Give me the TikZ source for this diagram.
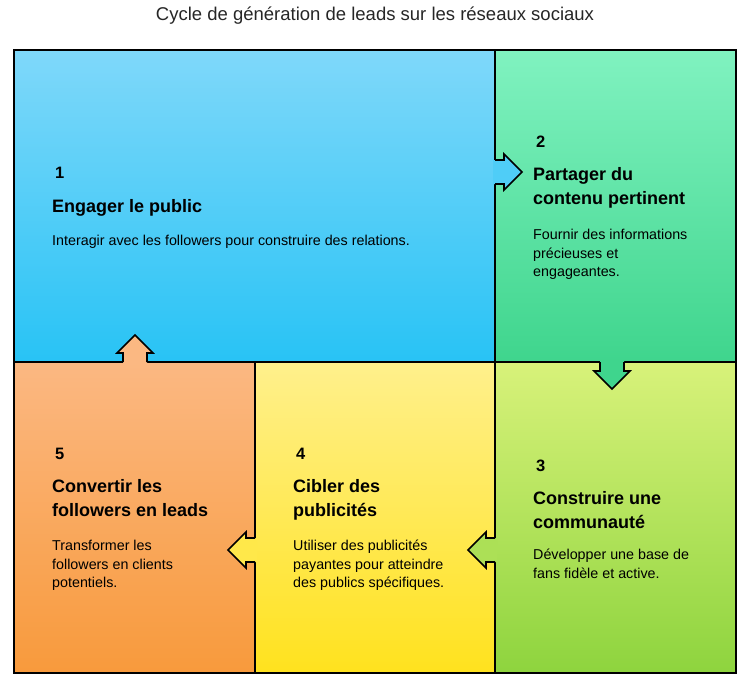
\documentclass[tikz,border=0pt]{standalone}
\usepackage{fontspec}
\setmainfont{Liberation Sans}
\definecolor{bluetop}{HTML}{7FD8FA}
\definecolor{bluebot}{HTML}{28C3F5}
\definecolor{greentop}{HTML}{80F2C0}
\definecolor{greenbot}{HTML}{3FD58D}
\definecolor{limetop}{HTML}{D8F27A}
\definecolor{limebot}{HTML}{8ED43E}
\definecolor{yellowtop}{HTML}{FFF08C}
\definecolor{yellowbot}{HTML}{FFE21E}
\definecolor{orangetop}{HTML}{FBB882}
\definecolor{orangebot}{HTML}{F89A3C}
\begin{document}
\begin{tikzpicture}[x=1pt,y=-1pt,
  num/.style={anchor=base west,inner sep=0pt,font=\bfseries\fontsize{16.5}{18}\selectfont},
  head/.style={anchor=north west,inner sep=0pt,align=left,font=\bfseries\fontsize{18}{24}\selectfont},
  body/.style={anchor=north west,inner sep=0pt,align=left,font=\fontsize{14.3}{18.5}\selectfont},
  border/.style={line width=1.6pt,black}]
\useasboundingbox (0,0) rectangle (749,693);

% Title
\node[font=\fontsize{18.5}{20}\selectfont,text=black!85] (title) at (375,16) {Cycle de génération de leads sur les réseaux sociaux};

% Areas
\shade[top color=bluetop,bottom color=bluebot] (14,50) rectangle (495,362);
\shade[top color=greentop,bottom color=greenbot] (495,50) rectangle (736,362);
\shade[top color=limetop,bottom color=limebot] (495,362) rectangle (736,673);
\shade[top color=yellowtop,bottom color=yellowbot] (255,362) rectangle (495,673);
\shade[top color=orangetop,bottom color=orangebot] (14,362) rectangle (255,673);

% Borders
\draw[border] (14,50) rectangle (736,673);
\draw[border] (495,50) -- (495,673);
\draw[border] (14,362) -- (736,362);
\draw[border] (255,362) -- (255,673);

% Arrows
\newcommand{\cyclearrow}[4]{%
  \begin{scope}[shift={(#1,#2)},rotate=#3]
    \fill[#4] (-2,-12) -- (9,-12) -- (9,-18) -- (27,0) -- (9,18) -- (9,12) -- (-2,12) -- cycle;
    \draw[border,line join=miter] (0,-12) -- (9,-12) -- (9,-18) -- (27,0) -- (9,18) -- (9,12) -- (0,12);
  \end{scope}}
\cyclearrow{495}{172}{0}{bluetop!45!bluebot}
\cyclearrow{612}{362}{-90}{greenbot}
\cyclearrow{495}{550}{180}{limetop!40!limebot}
\cyclearrow{255}{550}{180}{yellowtop!40!yellowbot}
\cyclearrow{135}{362}{90}{orangetop}

% Step 1
\node[num] (n1) at (55,178) {1};
\node[head] (h1) at (52,199) {Engager le public};
\node[body] (b1) at (52,235) {Interagir avec les followers pour construire des relations.};
% Step 2
\node[num] (n2) at (536,147) {2};
\node[head] (h2) at (533,167) {Partager du\\contenu pertinent};
\node[body] (b2) at (533,229) {Fournir des informations\\précieuses et\\engageantes.};
% Step 3
\node[num] (n3) at (536,471) {3};
\node[head] (h3) at (533,491) {Construire une\\communauté};
\node[body] (b3) at (533,549) {Développer une base de\\fans fidèle et active.};
% Step 4
\node[num] (n4) at (296,459) {4};
\node[head] (h4) at (293,479) {Cibler des\\publicités};
\node[body] (b4) at (293,540) {Utiliser des publicités\\payantes pour atteindre\\des publics spécifiques.};
% Step 5
\node[num] (n5) at (55,459) {5};
\node[head] (h5) at (52,479) {Convertir les\\followers en leads};
\node[body] (b5) at (52,540) {Transformer les\\followers en clients\\potentiels.};
\end{tikzpicture}
\end{document}
